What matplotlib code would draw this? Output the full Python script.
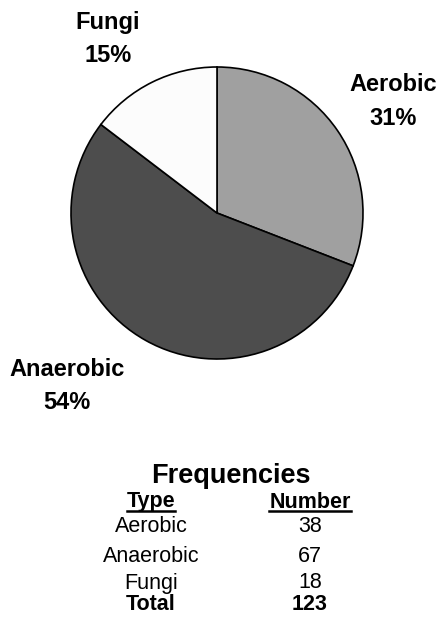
import matplotlib
matplotlib.use("Agg")
import matplotlib.pyplot as plt
from matplotlib.lines import Line2D

# data
types = ["Aerobic", "Anaerobic", "Fungi"]
counts = [38, 67, 18]
colors = ["#a0a0a0", "#4d4d4d", "#fcfcfc"]

plt.rcParams['font.family'] = ['Liberation Sans', 'DejaVu Sans']

W, H = 445, 617
fig = plt.figure(figsize=(W / 100, H / 100), dpi=100)

# pie centre (217, 213) px, radius 146 px
cx, cy, r = 217, 213, 146
ax = fig.add_axes([(cx - r) / W, 1 - (cy + r) / H, 2 * r / W, 2 * r / H])
ax.pie(counts, colors=colors, startangle=90, counterclock=False,
       wedgeprops=dict(edgecolor="black", linewidth=1.2))
ax.set_xlim(-1, 1)
ax.set_ylim(-1, 1)
ax.set_aspect("equal")
ax.axis("off")

total = sum(counts)
label_pos = {"Aerobic": (1.205, 0.765), "Anaerobic": (-1.03, -1.185), "Fungi": (-0.747, 1.19)}
for t, c in zip(types, counts):
    x, y = label_pos[t]
    ax.text(x, y, f"{t}\n{round(100 * c / total)}%", ha="center", va="center",
            fontsize=17, fontweight="bold", linespacing=1.58, clip_on=False)

# frequency table
def px(x, y):
    return x / W, 1 - y / H

fig.text(*px(231, 476), "Frequencies", ha="center", va="center", fontsize=19.5, fontweight="bold")
hdr_type = fig.text(*px(151, 502), "Type", ha="center", va="center", fontsize=15.5, fontweight="bold")
hdr_num = fig.text(*px(310, 502), "Number", ha="center", va="center", fontsize=15.5, fontweight="bold")
row_y = [526, 557, 583]
for t, c, y in zip(types, counts, row_y):
    fig.text(*px(151, y), t, ha="center", va="center", fontsize=15.5)
    fig.text(*px(310, y), str(c), ha="center", va="center", fontsize=15.5)
fig.text(*px(151, 605), "Total", ha="center", va="center", fontsize=15.5, fontweight="bold")
fig.text(*px(310, 605), str(total), ha="center", va="center", fontsize=15.5, fontweight="bold")

# underline headers
fig.canvas.draw()
renderer = fig.canvas.get_renderer()
for txt in (hdr_type, hdr_num):
    bb = txt.get_window_extent(renderer)
    yl = 1 - 511 / H
    fig.add_artist(Line2D([bb.x0 / W, bb.x1 / W], [yl, yl], color="black", linewidth=1.8))

fig.savefig("out.png", dpi=100)
